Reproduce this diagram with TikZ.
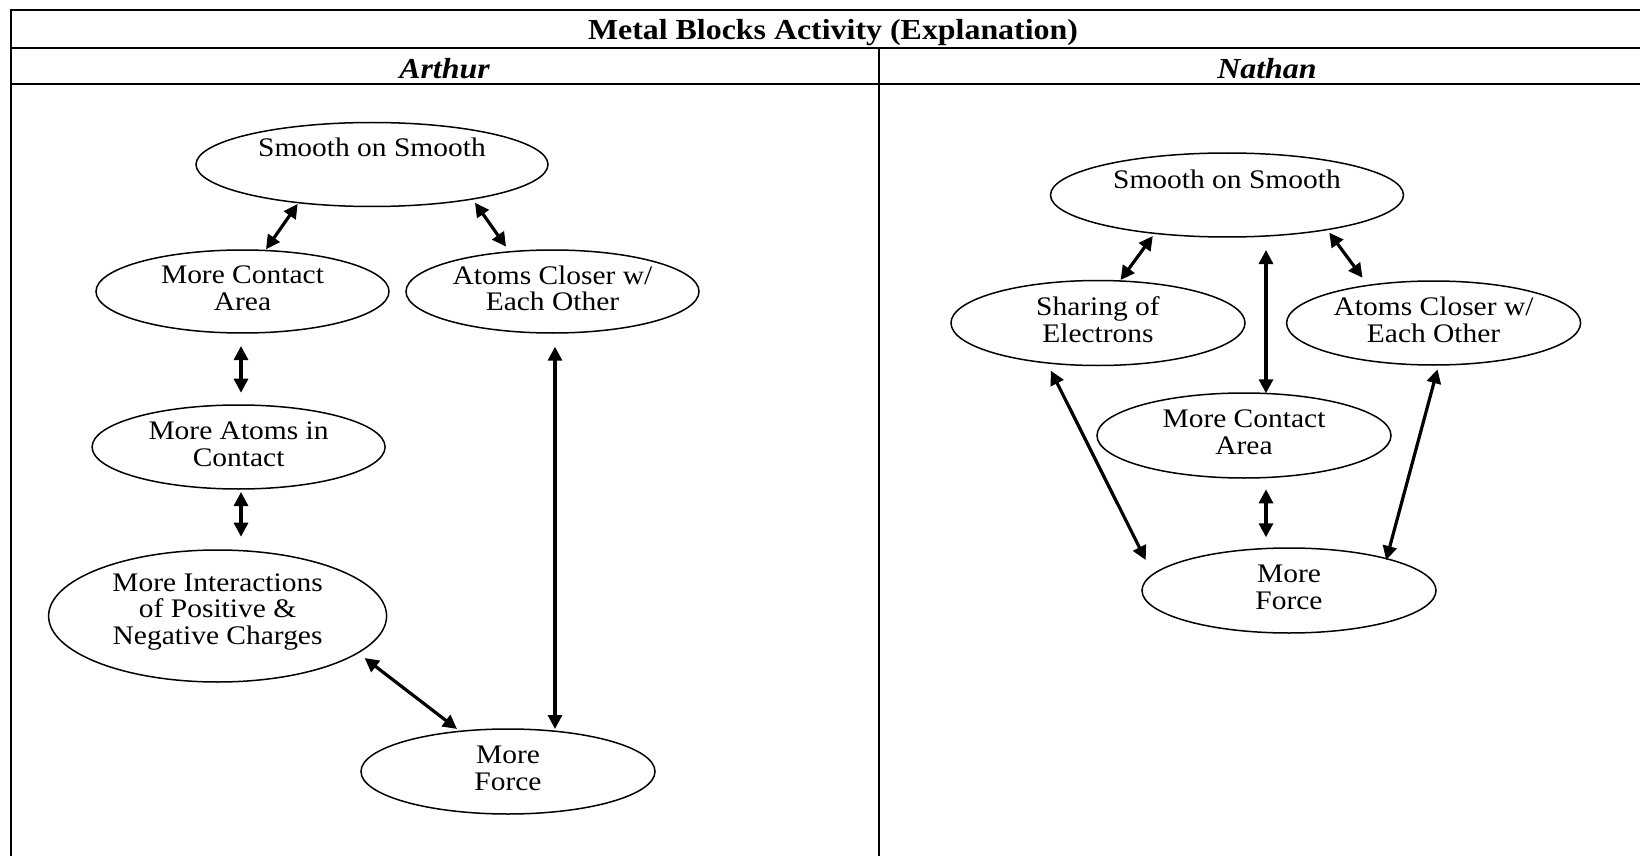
\documentclass[tikz,border=0pt]{standalone}
\usepackage{fontspec}
\setmainfont[FakeStretch=1.1]{Liberation Serif}
\usetikzlibrary{arrows.meta,shapes.geometric,calc}
\begin{document}
\begin{tikzpicture}[x=0.5pt,y=-0.5pt,
  oval/.style={draw, ellipse, line width=0.75pt, inner sep=0pt, align=center,
    text depth=3.2pt, font=\fontsize{13.4}{13.35}\selectfont},
  link/.style={line width=1.6pt,
    {Triangle[length=7pt,width=7pt]}-{Triangle[length=7pt,width=7pt]}},
  rule/.style={line width=1pt},
  headtxt/.style={font=\fontsize{14.5}{16}\selectfont\bfseries\itshape},
  ]
\useasboundingbox (0,0) rectangle (1640,856);
% table
\draw[rule] (10.5,10) -- (1640,10);
\draw[rule] (10.5,48) -- (1640,48);
\draw[rule] (10.5,84.5) -- (1640,84.5);
\draw[rule] (10.5,9.5) -- (10.5,856);
\draw[rule] (879,48) -- (879,856);
\node (title) at (833,33) {\fontsize{14.5}{16}\selectfont\bfseries Metal Blocks Activity (Explanation)};
\node[headtxt] (arthur) at (444.5,68.5) {Arthur};
\node[headtxt] (nathan) at (1267,68.5) {Nathan};

% Arthur
\node[oval, minimum width=176pt, minimum height=42pt, text depth=17pt] (ls) at (372,164.5) {Smooth on Smooth};
\node[oval, minimum width=146.5pt, minimum height=41.5pt] (lmca) at (242.5,291.5) {More Contact\\Area};
\node[oval, minimum width=146.5pt, minimum height=41.5pt] (lac) at (552.5,291.5) {Atoms Closer w/\\Each Other};
\node[oval, minimum width=146.5pt, minimum height=42pt] (lmac) at (238.6,447) {More Atoms in\\Contact};
\node[oval, minimum width=169pt, minimum height=66pt, text depth=7pt] (lint) at (217.6,616) {More Interactions\\of Positive \&\\Negative Charges};
\node[oval, minimum width=147pt, minimum height=42.5pt] (lforce) at (508,771.5) {More\\Force};

\draw[link] ($(ls)+(-74.3,39.5)$) -- ($(lmca)+(23.5,-42.2)$);
\draw[link] ($(ls)+(103,38.2)$) -- ($(lac)+(-46.5,-44.8)$);
\draw[link] ($(lmca)+(-1.5,54.5)$) -- ($(lmac)+(2.4,-54.3)$);
\draw[link] ($(lmac)+(2.4,45)$) -- ($(lint)+(23.4,-79.3)$);
\draw[link] ($(lac)+(2.5,55.2)$) -- ($(lforce)+(47,-42.5)$);
\draw[link] ($(lint)+(147,42)$) -- ($(lforce)+(-51,-42.5)$);

% Nathan
\node[oval, minimum width=176.5pt, minimum height=42pt, text depth=16pt] (rs) at (1227,195) {Smooth on Smooth};
\node[oval, minimum width=147pt, minimum height=42.5pt] (rsh) at (1098,323) {Sharing of\\Electrons};
\node[oval, minimum width=147pt, minimum height=42pt] (rac) at (1433.6,323) {Atoms Closer w/\\Each Other};
\node[oval, minimum width=147pt, minimum height=42.5pt] (rmca) at (1244,435.5) {More Contact\\Area};
\node[oval, minimum width=147pt, minimum height=42.5pt] (rforce) at (1289,590.5) {More\\Force};

\draw[link] ($(rs)+(-74.2,41)$) -- ($(rsh)+(22.6,-43)$);
\draw[link] ($(rs)+(102.3,37.7)$) -- ($(rac)+(-71.1,-45.3)$);
\draw[link] ($(rs)+(39,55)$) -- ($(rmca)+(22,-42.2)$);
\draw[link] ($(rmca)+(22,53.8)$) -- ($(rforce)+(-23,-53.2)$);
\draw[link] ($(rsh)+(-47.1,47.7)$) -- ($(rforce)+(-143.3,-30.5)$);
\draw[link] ($(rac)+(3.9,46.3)$) -- ($(rforce)+(97.2,-30.5)$);
\end{tikzpicture}
\end{document}
